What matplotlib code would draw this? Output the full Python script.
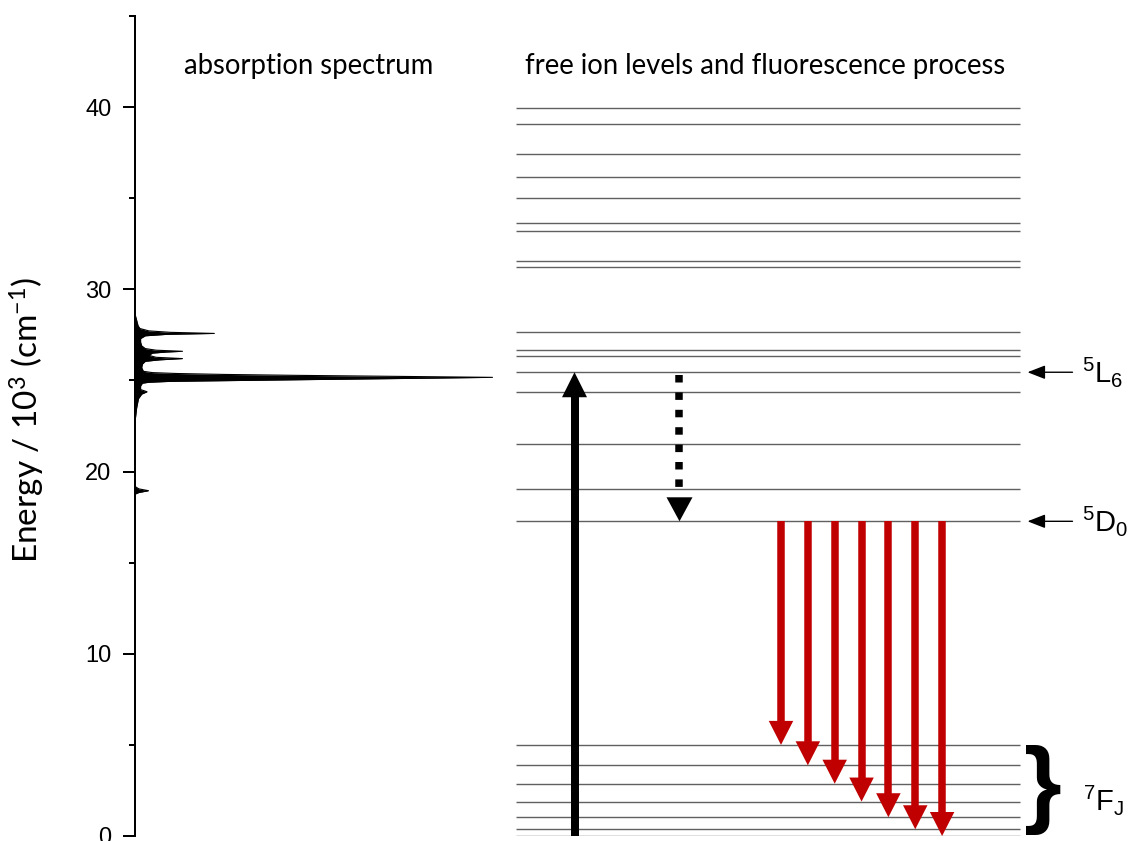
import numpy as np
import matplotlib
matplotlib.use("Agg")
import matplotlib.pyplot as plt
from matplotlib.ticker import MultipleLocator

# ---------------- data ----------------
# Eu3+ free-ion levels (10^3 cm^-1)
excited_levels = [17.27, 19.02, 21.52, 24.38, 25.45, 26.35, 26.68, 27.65,
                  31.25, 31.55, 33.22, 33.62, 35.02, 36.16, 37.42, 39.05, 39.95]
ground_levels = [0.0, 0.37, 1.03, 1.89, 2.87, 3.88, 5.0]   # 7F0 ... 7F6

pump_level = 25.45        # 5L6
emitting_level = 17.27    # 5D0

# absorption spectrum (energy in 10^3 cm^-1, normalised intensity)
abs_energy = [18.75, 18.85, 18.95, 19.05, 19.2,
              22.6, 23.0, 23.5, 24.0, 24.25, 24.38, 24.5, 24.7, 24.85, 24.9,
              24.95, 25.0, 25.05, 25.12, 25.17, 25.22, 25.28, 25.33, 25.38,
              25.43, 25.5, 25.7, 25.9, 26.05, 26.13, 26.2, 26.27, 26.38, 26.5,
              26.56, 26.6, 26.66, 26.75, 26.9, 27.1, 27.3, 27.45, 27.53, 27.58,
              27.64, 27.72, 27.85, 28.0, 28.3, 28.6, 28.8]
abs_intensity = [0.0, 0.012, 0.039, 0.012, 0.0,
                 0.0, 0.003, 0.006, 0.011, 0.02, 0.035, 0.017, 0.017, 0.022, 0.04,
                 0.1, 0.3, 0.5, 0.8, 1.0, 0.75, 0.45, 0.25, 0.12,
                 0.05, 0.025, 0.02, 0.022, 0.03, 0.07, 0.134, 0.06, 0.04, 0.05,
                 0.09, 0.134, 0.06, 0.03, 0.02, 0.017, 0.017, 0.03, 0.09, 0.223,
                 0.1, 0.04, 0.015, 0.01, 0.006, 0.002, 0.0]

y_ticks = [0, 10, 20, 30, 40]

# ---------------- layout ----------------
W, H, DPI = 1131, 841, 100
AX_LEFT, AX_BOTTOM, AX_W, AX_H = 134.5, 5, 996.5, 820
YMIN, YMAX = 0, 45
PX_PER_UNIT = AX_H / (YMAX - YMIN)
PT = 72 / DPI

SPEC_WIDTH = 358                  # horizontal extent of the strongest peak
LEVEL_X0, LEVEL_X1 = 381, 886     # level lines
PUMP_X, RELAX_X = 440, 545
EMIT_X0, EMIT_DX = 646.5, 26.85
LABEL_X = 947.5

RED = "#C00000"

fig = plt.figure(figsize=(W / DPI, H / DPI), dpi=DPI)
ax = fig.add_axes([AX_LEFT / W, AX_BOTTOM / H, AX_W / W, AX_H / H])
ax.set_xlim(0, AX_W)
ax.set_ylim(YMIN, YMAX)

for side in ("top", "right", "bottom"):
    ax.spines[side].set_visible(False)
ax.spines["left"].set_linewidth(2 * PT)
ax.set_xticks([])
ax.set_yticks(y_ticks)
ax.yaxis.set_minor_locator(MultipleLocator(5))
ax.tick_params(axis="y", which="major", length=12 * PT, width=2 * PT, pad=8,
               labelsize=17)
ax.tick_params(axis="y", which="minor", length=6 * PT, width=2 * PT)
for lab in ax.get_yticklabels():
    lab.set_family("Liberation Sans")

ax.set_ylabel(r"Energy / 10$\mathregular{^3}$ (cm$\mathregular{^{-1}}$)",
              family="Lato", fontsize=24)
ax.yaxis.set_label_coords((47 - AX_LEFT) / AX_W, 0.507)

# absorption spectrum
ax.fill_betweenx(abs_energy, 0, np.array(abs_intensity) * SPEC_WIDTH,
                 color="black", lw=0)
ax.plot(np.array(abs_intensity) * SPEC_WIDTH, abs_energy, color="black", lw=0.8)

# energy levels
for e in excited_levels + ground_levels:
    ax.plot([LEVEL_X0, LEVEL_X1], [e, e], color="#606060", lw=1.0,
            solid_capstyle="butt", zorder=1)


def vertical_arrow(x, y_from, y_to, color, shaft_px, head_w_px, head_h_px,
                   dashes=None, start_gap_px=0, end_gap_px=0):
    d = np.sign(y_to - y_from)
    head_h = head_h_px / PX_PER_UNIT
    base = y_to - d * head_h
    y0 = y_from + d * start_gap_px / PX_PER_UNIT
    y1 = base - d * end_gap_px / PX_PER_UNIT
    if end_gap_px == 0:
        y1 = base + d * 0.05
    kw = dict(color=color, lw=shaft_px * PT, solid_capstyle="butt",
              dash_capstyle="butt", zorder=3)
    if dashes is not None:
        kw["linestyle"] = (0, dashes)
    ax.plot([x, x], [y0, y1], **kw)
    ax.fill([x - head_w_px / 2, x + head_w_px / 2, x], [base, base, y_to],
            color=color, lw=0, zorder=3)


# excitation
vertical_arrow(PUMP_X, ground_levels[0], pump_level, "black", 8, 25, 25)
# non-radiative relaxation
vertical_arrow(RELAX_X, pump_level, emitting_level, "black", 7.5, 26, 24,
               dashes=(1, 1.32), start_gap_px=3, end_gap_px=9)
# fluorescence 5D0 -> 7FJ
for i, e in enumerate(ground_levels[::-1]):
    vertical_arrow(EMIT_X0 + i * EMIT_DX, emitting_level, e, RED, 7.5, 24.5, 24)

# titles
title_y = YMAX - (66 - 16) / PX_PER_UNIT
ax.text(174, title_y, "absorption spectrum", family="Lato", fontsize=19.8,
        ha="center", va="center")
ax.text(630.5, title_y, "free ion levels and fluorescence process",
        family="Lato", fontsize=19.8, ha="center", va="center")

# term labels
arrow_kw = dict(arrowstyle="-|>,head_length=0.9,head_width=0.35", lw=1,
                color="black", shrinkA=0, shrinkB=0, mutation_scale=12)
for e, txt in [(pump_level, r"$\mathregular{^5L_6}$"),
               (emitting_level, r"$\mathregular{^5D_0}$")]:
    ax.annotate("", xy=(893, e), xytext=(938, e), arrowprops=arrow_kw)
    ax.text(LABEL_X, e, txt, family="Liberation Sans", fontsize=21,
            ha="left", va="center")

brace_y = (ground_levels[0] + ground_levels[-1]) / 2
ax.text(908, brace_y, "}", family="Liberation Sans", fontweight="bold",
        fontsize=70, ha="center", va="center")
ax.text(LABEL_X + 1, brace_y - 0.5, r"$\mathregular{^7F_J}$",
        family="Liberation Sans", fontsize=21, ha="left", va="center")

fig.savefig("out.png", dpi=DPI)
